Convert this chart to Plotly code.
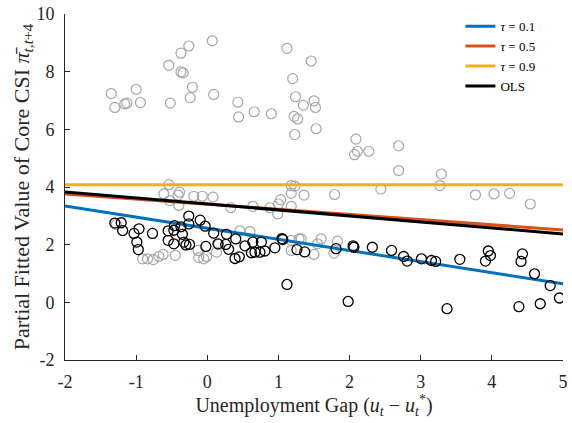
import plotly.graph_objects as go

# unemployment gap range used by the fitted lines
gap_ends = [-2, 5]

# fitted partial value lines (value at gap=-2 and gap=5)
q10_line = [3.34, 0.64]
q50_line = [3.76, 2.51]
q90_line = [4.08, 4.08]
ols_line = [3.83, 2.37]

# gray observations
gray_x = [-1.35, -1.30, -1.16, -1.13, -1.00, -0.94, -0.54, -0.37, -0.26, -0.37, -0.34, -0.21,
          -0.24, -0.52, 0.07, 0.09, 0.43, 0.44, 0.66, 0.90, 1.12, 1.20, 1.46, 1.24, 1.35, 1.22,
          1.27, 1.23, 1.50, 1.52, 1.53, 2.09, 2.11, 2.07, 2.27, 2.69, 2.69, 3.29, 3.27, 2.44,
          1.79, 1.36, 3.77, 4.03, 4.25, 4.54,
          -0.54, -0.61, -0.39, -0.41, -0.53, -0.40, -0.19, -0.07, 0.08, 0.33, 1.18, 1.23, 1.18,
          1.03, 1.00, 0.88, 0.64, 0.99, 1.18,
          -0.91, -0.84, -0.76, -0.68, -0.62, -0.45, -0.12, -0.05, -0.01, 0.13, 0.16, 0.46,
          -0.13, 1.29, 1.60, 1.55, 1.18, 1.50, 1.83, 1.78, 1.32, 2.06, -1.28, 1.18, 0.60]
gray_y = [7.24, 6.76, 6.88, 6.91, 7.39, 6.93, 8.22, 8.64, 8.89, 7.99, 7.96, 7.46,
          7.10, 6.91, 9.07, 7.21, 6.94, 6.43, 6.61, 6.54, 8.81, 7.76, 8.37, 7.13, 6.84, 6.45,
          6.36, 5.82, 6.99, 6.76, 6.02, 5.66, 5.24, 5.12, 5.24, 5.43, 4.57, 4.45, 4.05, 3.93,
          3.74, 3.72, 3.73, 3.76, 3.78, 3.41,
          4.08, 3.76, 3.82, 3.72, 3.53, 3.36, 3.68, 3.68, 3.65, 3.28, 4.05, 4.03, 3.78,
          3.56, 3.41, 3.28, 3.33, 3.07, 3.33,
          1.51, 1.51, 1.48, 1.59, 1.66, 1.63, 1.55, 1.51, 1.59, 1.74, 2.01, 2.48,
          1.80, 2.20, 2.20, 2.03, 1.80, 1.66, 2.12, 1.71, 2.20, 1.91, 2.70, 2.15, 2.45]

# black observations
black_x = [-1.30, -1.21, -1.19, -1.03, -0.96, -0.99, -0.97, -0.77, -0.55, -0.55, -0.47, -0.46,
           -0.47, -0.37, -0.35, -0.26, -0.26, -0.33, -0.30, -0.25, -0.10, -0.03, -0.02, 0.09,
           0.15, 0.27, 0.26, 0.30, 0.40, 0.39, 0.45, 0.53, 0.64, 0.76, 0.62, 0.67, 0.74, 0.81,
           0.95, 1.05, 1.06, 1.12, 1.26, 1.37, 1.81, 1.98, 2.05, 2.06, 2.32, 2.59, 2.76, 2.81,
           3.01, 3.15, 3.21, 3.37, 3.55, 3.91, 3.95, 3.98, 4.38, 4.41, 4.43, 4.60, 4.68, 4.82,
           4.95]
black_y = [2.75, 2.76, 2.49, 2.39, 2.55, 2.09, 1.83, 2.39, 2.48, 2.15, 2.50, 2.66,
           2.03, 2.62, 2.36, 2.99, 2.72, 2.09, 1.99, 2.01, 2.85, 2.64, 1.94, 2.40,
           2.03, 2.36, 2.01, 1.84, 2.20, 1.52, 1.58, 1.96, 2.09, 2.09, 1.72, 1.74, 1.74, 1.78,
           1.89, 2.21, 2.18, 0.62, 1.83, 1.75, 1.86, 0.03, 1.96, 1.91, 1.91, 1.80, 1.59, 1.43,
           1.51, 1.45, 1.42, -0.22, 1.49, 1.43, 1.78, 1.62, -0.15, 1.42, 1.68, 0.99, -0.05, 0.58,
           0.15]

x_ticks = [-2, -1, 0, 1, 2, 3, 4, 5]
x_labels = ['-2', '-1', '0', '1', '2', '3', '4', '5']
y_ticks = [-2, 0, 2, 4, 6, 8, 10]
y_labels = ['-2', '0', '2', '4', '6', '8', '10']

SERIF = "Liberation Serif"
AX = "#262626"

fig = go.Figure()

fig.add_trace(go.Scatter(x=gray_x, y=gray_y, mode='markers', showlegend=False,
                         marker=dict(symbol='circle-open', size=10, color='#a6a6a6',
                                     line=dict(width=1.2, color='#a6a6a6'))))

lines = [
    (q10_line, '#0072BD', '<i>τ</i> = 0.1'),
    (q50_line, '#D95319', '<i>τ</i> = 0.5'),
    (q90_line, '#EDB120', '<i>τ</i> = 0.9'),
    (ols_line, 'black', 'OLS'),
]
for vals, color, label in lines:
    fig.add_trace(go.Scatter(x=gap_ends, y=vals, mode='lines', name=label,
                             line=dict(color=color, width=3)))

fig.add_trace(go.Scatter(x=black_x, y=black_y, mode='markers', showlegend=False,
                         marker=dict(symbol='circle-open', size=10, color='black',
                                     line=dict(width=1.3, color='black'))))

fig.update_layout(
    width=572, height=423,
    margin=dict(l=65, r=4, t=13, b=63),
    paper_bgcolor='white', plot_bgcolor='white',
    font=dict(family=SERIF, color=AX),
    legend=dict(x=0.794, y=1.008, xanchor='left', yanchor='top',
                font=dict(family=SERIF, size=13, color='black'),
                bgcolor='rgba(255,255,255,0)', tracegroupgap=0),
    xaxis=dict(range=[-2, 5], tickvals=x_ticks, ticktext=x_labels, ticks='inside', ticklen=5,
               tickcolor=AX, showline=True, linecolor=AX, linewidth=1,
               ticklabeloverflow='allow', ticklabelstandoff=5,
               showgrid=False, zeroline=False, tickfont=dict(size=18, color=AX),
               title=dict(text='Unemployment Gap (<i>u<sub>t</sub></i> − <i>u<sub>t</sub></i><sup>*</sup>)',
                          font=dict(size=20, color=AX), standoff=6)),
    yaxis=dict(range=[-2, 10], tickvals=y_ticks, ticktext=y_labels, ticks='inside', ticklen=5,
               tickcolor=AX, showline=True, linecolor=AX, linewidth=1,
               ticklabeloverflow='allow', ticklabelstandoff=6,
               showgrid=False, zeroline=False, tickfont=dict(size=18, color=AX),
               title=dict(text='Partial Fitted Value of Core CSI <i>π̄</i><sub><i>t,t</i>+4</sub>',
                          font=dict(size=22, color=AX), standoff=0)),
)

# page has a default body margin; drop it so the figure sits at the window corner
fig.write_html("out.html", config={'displayModeBar': False},
               post_script="document.body.style.margin='0px';")
